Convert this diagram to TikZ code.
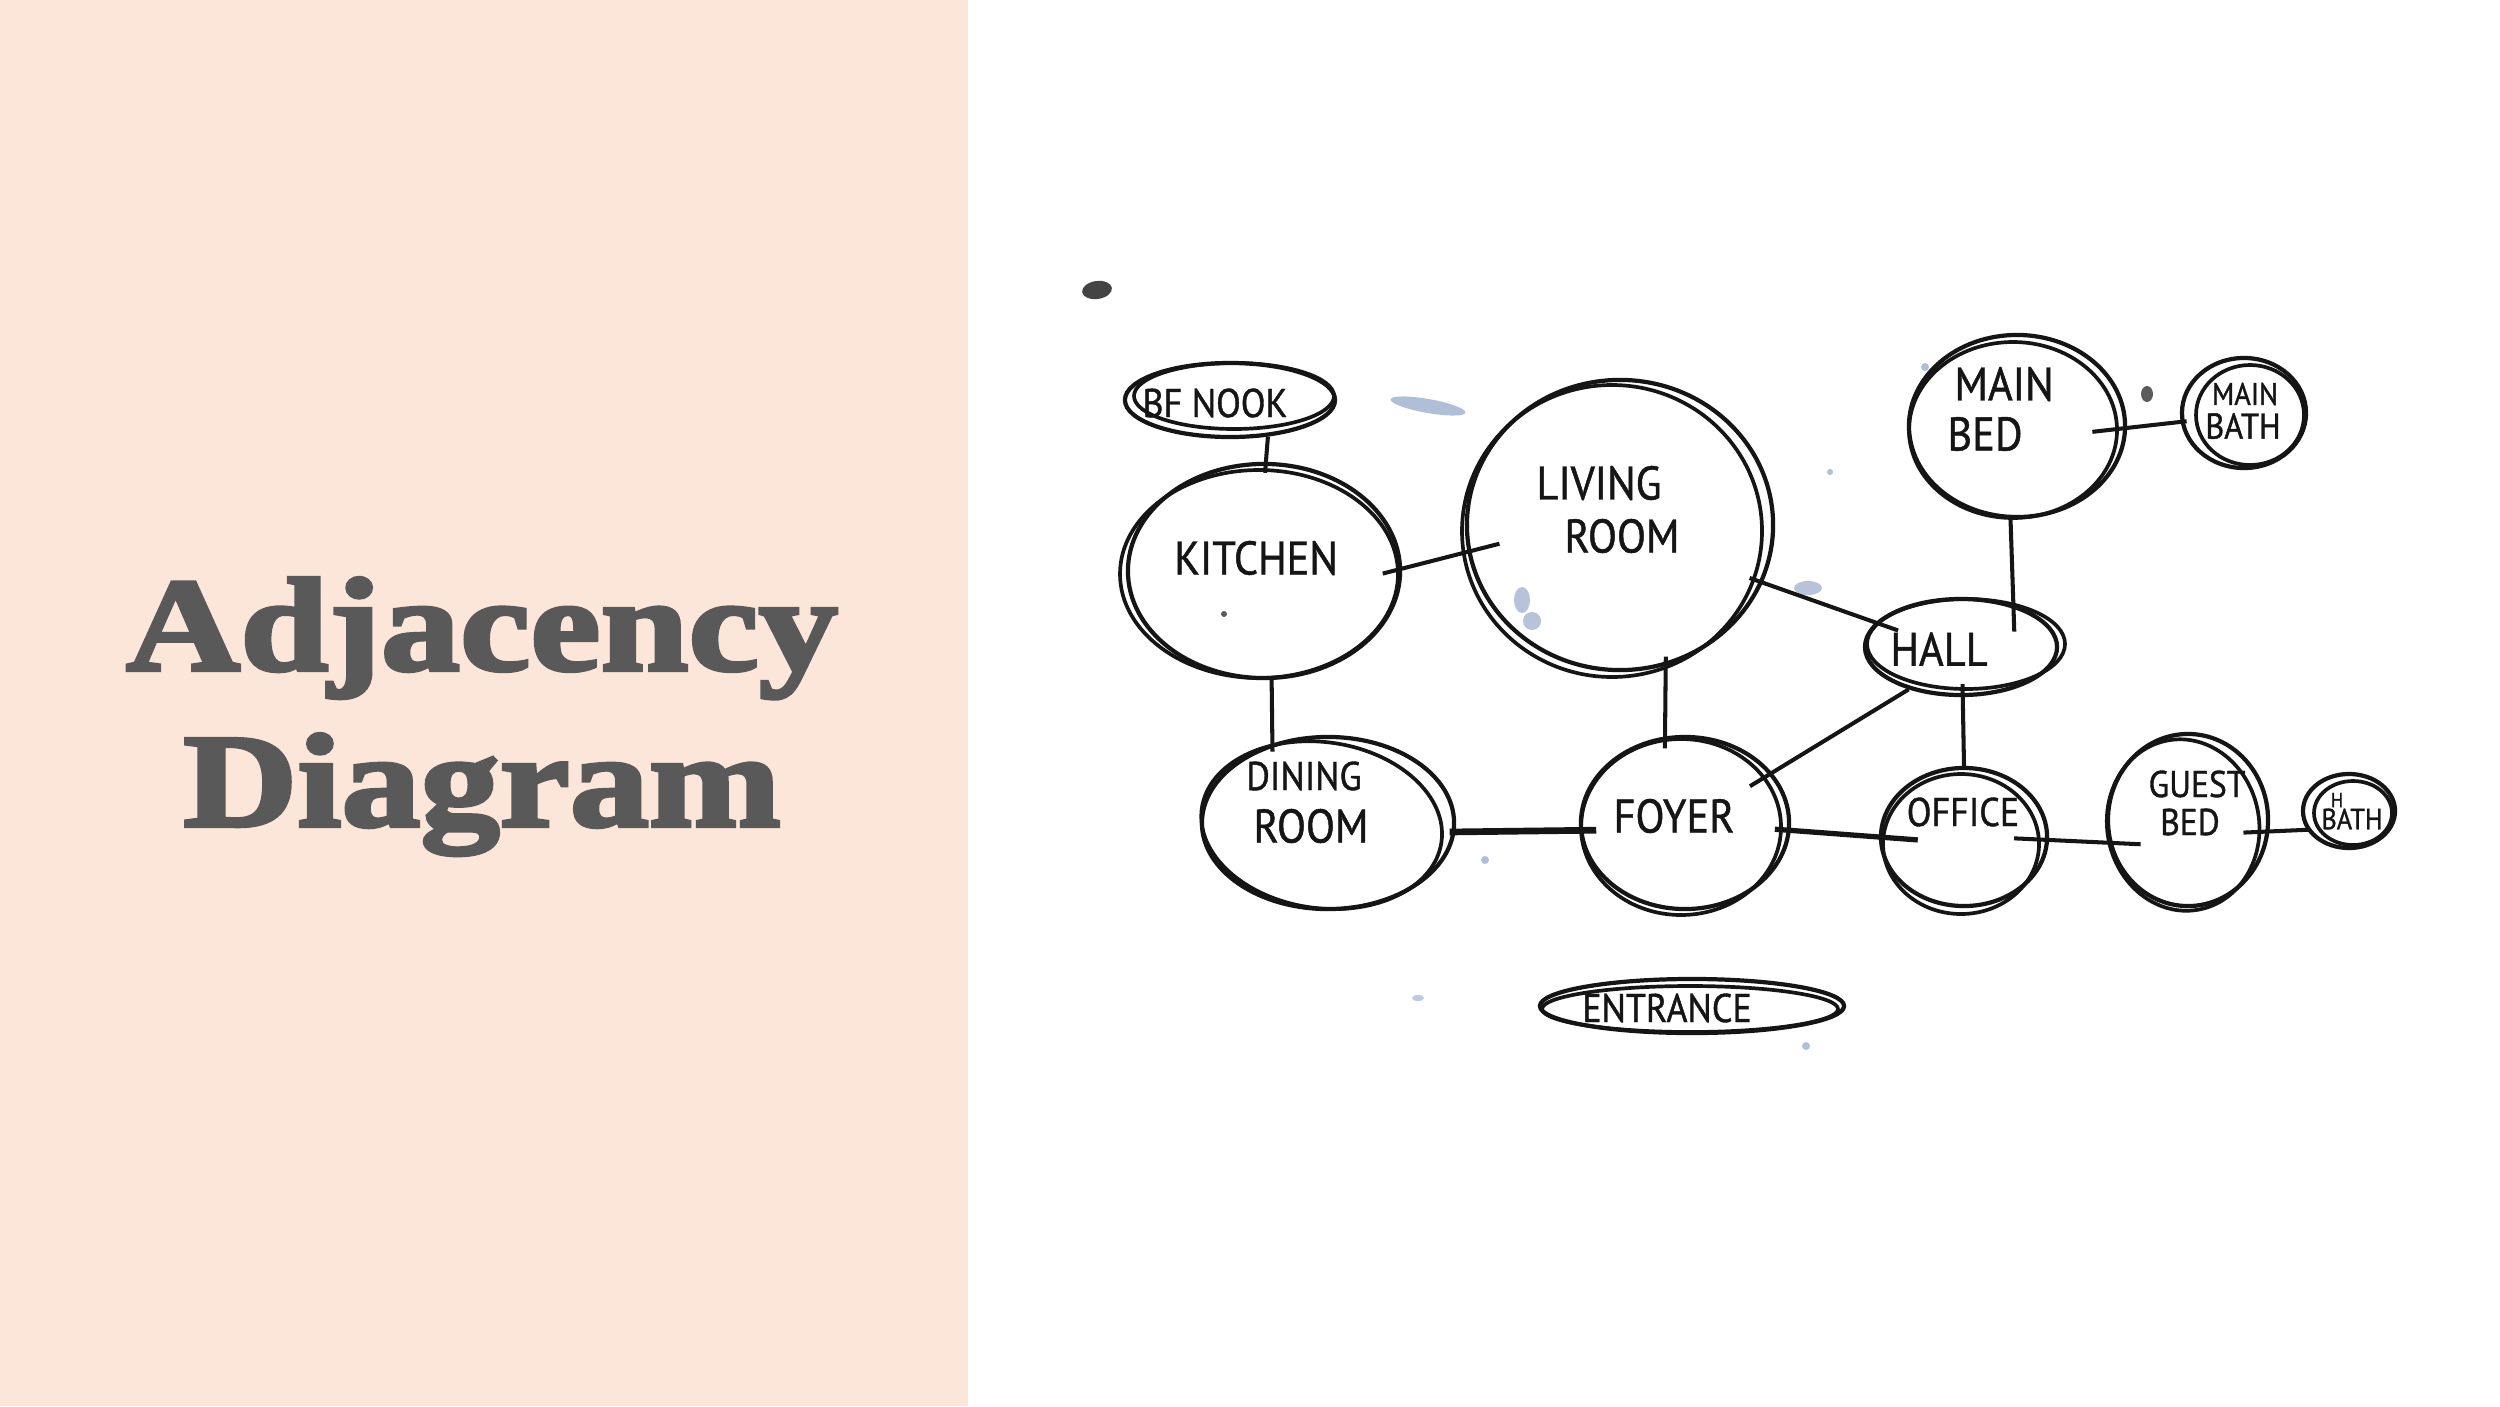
\documentclass[tikz,border=0pt]{standalone}
\usepackage{fontspec}
\usetikzlibrary{shapes.geometric}
\newfontfamily\TitleFont[FakeStretch=1.19,FakeBold=3]{Liberation Serif Bold}
\newfontfamily\HandFont[FakeStretch=0.9,FakeBold=1]{PT Sans}
\newcommand\HandBig{\HandFont\fontsize{13.4}{14}\selectfont}
\newcommand\HandMed{\HandFont\fontsize{11.4}{12}\selectfont}
\newcommand\HandGuest{\HandFont\fontsize{10.6}{11}\selectfont}
\newcommand\HandSmall{\HandFont\fontsize{8.9}{9.5}\selectfont}
\newcommand\HandBath{\HandFont\fontsize{10.2}{11}\selectfont}
\newcommand\HandTiny{\HandFont\fontsize{8.3}{9}\selectfont}
\newcommand\HandMini{\HandFont\fontsize{5.8}{6.2}\selectfont}
\definecolor{peach}{HTML}{FCE5D9}
\definecolor{titlegrey}{HTML}{595959}
\definecolor{ink}{HTML}{151515}
\definecolor{smudge}{HTML}{7E93BF}
\begin{document}
\begin{tikzpicture}[x=0.01cm,y=-0.01cm,
  sk/.style={draw=ink, line width=1.05pt},
  room/.style={ellipse, draw=ink, line width=1.2pt, inner sep=0pt},
  lbl/.style={text=ink, inner sep=0pt},
  link/.style={draw=ink, line width=1.15pt},
  titletext/.style={anchor=base, text=titlegrey, inner sep=0pt,
    font=\TitleFont\fontsize{37.8}{40}\selectfont}
]
\useasboundingbox (0,0) rectangle (2500,1406);
\fill[white] (0,0) rectangle (2500,1406);
\fill[peach] (0,0) rectangle (968,1406);

% title
\node[titletext] (title1) at (482,670) {Adjacency};
\node[titletext] (title2) at (482,826) {Diagram};

% smudges
\fill[ink!80, rotate around={8:(1097,290)}] (1097,290) ellipse [x radius=15, y radius=9];
\fill[smudge, opacity=0.6, rotate around={-10:(1428,406)}] (1428,406) ellipse [x radius=38, y radius=7];
\fill[smudge, opacity=0.55] (1522,600) ellipse [x radius=8, y radius=13];
\fill[smudge, opacity=0.55] (1532,621) ellipse [x radius=9, y radius=9];
\fill[smudge, opacity=0.55] (1808,588) ellipse [x radius=14, y radius=7];
\fill[smudge, opacity=0.6] (1485,860) circle [radius=4];
\fill[smudge, opacity=0.6] (1925,367) circle [radius=4];
\fill[smudge, opacity=0.6] (1806,1046) circle [radius=4];
\fill[smudge, opacity=0.5] (1418,998) ellipse [x radius=6, y radius=3];
\fill[smudge, opacity=0.6] (1830,472) circle [radius=3];
\fill[ink!70] (2147,394) ellipse [x radius=6, y radius=8];
\fill[ink!70] (1224,614) circle [radius=3];

% rooms (first stroke)
\node[room, minimum width=2.10cm, minimum height=0.74cm] (bfnook) at (1230,400) {};
\node[room, minimum width=2.72cm, minimum height=2.14cm] (kitchen) at (1264,571) {};
\node[room, minimum width=3.06cm, minimum height=2.90cm] (living) at (1620,525) {};
\node[room, minimum width=2.16cm, minimum height=1.82cm] (mainbed) at (2017,426) {};
\node[room, minimum width=1.24cm, minimum height=1.10cm] (mainbath) at (2244,413) {};
\node[room, minimum width=1.92cm, minimum height=0.96cm] (hall) at (1961,647) {};
\node[room, minimum width=2.52cm, minimum height=1.72cm] (dining) at (1328,823) {};
\node[room, minimum width=2.08cm, minimum height=1.72cm] (foyer) at (1685,823) {};
\node[room, minimum width=1.66cm, minimum height=1.38cm] (office) at (1964,837) {};
\node[room, minimum width=1.60cm, minimum height=1.72cm] (guest) at (2188,820) {};
\node[room, minimum width=0.92cm, minimum height=0.74cm] (hbath) at (2349,811) {};
\node[room, minimum width=3.04cm, minimum height=0.54cm] (entrance) at (1692,1006) {};

% second (sketchy) strokes
\draw[sk] ([shift={(4,-4)}]bfnook.center) ellipse [x radius=100, y radius=33];
\draw[sk] ([shift={(-5,3)}]kitchen.center) ellipse [x radius=139, y radius=104];
\draw[sk] ([shift={(-8,6)}]living.center) ellipse [x radius=150, y radius=146];
\draw[sk] ([shift={(-4,4)}]mainbed.center) ellipse [x radius=104, y radius=88];
\draw[sk] ([shift={(6,2)}]mainbath.center) ellipse [x radius=54, y radius=50];
\draw[sk] ([shift={(5,-3)}]hall.center) ellipse [x radius=99, y radius=45];
\draw[sk, rotate around={-8:(dining.center)}] ([shift={(-6,3)}]dining.center) ellipse [x radius=121, y radius=83];
\draw[sk] ([shift={(-4,4)}]foyer.center) ellipse [x radius=100, y radius=88];
\draw[sk] ([shift={(-3,7)}]office.center) ellipse [x radius=78, y radius=70];
\draw[sk, rotate around={10:(guest.center)}] ([shift={(-6,4)}]guest.center) ellipse [x radius=76, y radius=86];
\draw[sk] ([shift={(4,2)}]hbath.center) ellipse [x radius=39, y radius=32];
\draw[sk] ([shift={(-2,3)}]entrance.center) ellipse [x radius=148, y radius=23];

% labels
\node[lbl, font=\HandMed] (t-bfnook) at (1215,403) {BF NOOK};
\node[lbl, font=\HandBig] (t-kitchen) at (1256,558) {KITCHEN};
\node[lbl, font=\HandBig] (t-living1) at (1599,483) {LIVING};
\node[lbl, font=\HandBig] (t-living2) at (1622,536) {ROOM};
\node[lbl, font=\HandBig] (t-mainbed1) at (2004,384) {MAIN};
\node[lbl, font=\HandBig] (t-mainbed2) at (1985,434) {BED};
\node[lbl, font=\HandSmall] (t-mainbath1) at (2245,394) {MAIN};
\node[lbl, font=\HandBath] (t-mainbath2) at (2243,426) {BATH};
\node[lbl, font=\HandBig] (t-hall) at (1939,649) {HALL};
\node[lbl, font=\HandMed] (t-dining1) at (1304,776) {DINING};
\node[lbl, font=\HandBig] (t-dining2) at (1311,826) {ROOM};
\node[lbl, font=\HandBig] (t-foyer) at (1674,816) {FOYER};
\node[lbl, font=\HandMed] (t-office) at (1963,812) {OFFICE};
\node[lbl, font=\HandGuest] (t-guest1) at (2197,784) {GUEST};
\node[lbl, font=\HandGuest] (t-guest2) at (2190,822) {BED};
\node[lbl, font=\HandMini] (t-hbath1) at (2337,800) {H};
\node[lbl, font=\HandTiny] (t-hbath2) at (2352,819) {BATH};
\node[lbl, font=\HandMed] (t-entrance) at (1667,1008) {ENTRANCE};

% connectors
\draw[link, shorten >=-1.1mm] (bfnook.-44) -- (kitchen.89);
\draw[link, shorten <=-2mm, shorten >=-3.3mm] (kitchen.1) -- (living.190);
\draw[link, shorten >=-0.8mm] (kitchen.-86) -- (dining.125);
\draw[link, shorten <=-0.9mm, shorten >=-1.2mm] (living.-72) -- (foyer.103);
\draw[link, line width=1.9pt, shorten <=-0.6mm, shorten >=-1.7mm] (dining.-4) -- (foyer.184);
\draw[link, shorten <=-1.4mm, shorten >=-2.4mm] (living.-22) -- (hall.164);
\draw[link, shorten <=-0.4mm, shorten >=-2.7mm] (mainbed.-94) -- (hall.39);
\draw[link, shorten <=-3.5mm, shorten >=-0.6mm] (mainbed.-1) -- (mainbath.188);
\draw[link, shorten >=-2.6mm] (hall.219) -- (foyer.30);
\draw[link, shorten <=-1.3mm] (hall.-88) -- (office.90);
\draw[link, line width=1.5pt, shorten <=-1.6mm, shorten >=-3.9mm] (foyer.-4) -- (office.180);
\draw[link, shorten <=-3.5mm, shorten >=-3.2mm] (office.-2) -- (guest.196);
\draw[link, shorten <=-2.6mm, shorten >=-0.3mm] (guest.-8) -- (hbath.204);
\end{tikzpicture}
\end{document}
